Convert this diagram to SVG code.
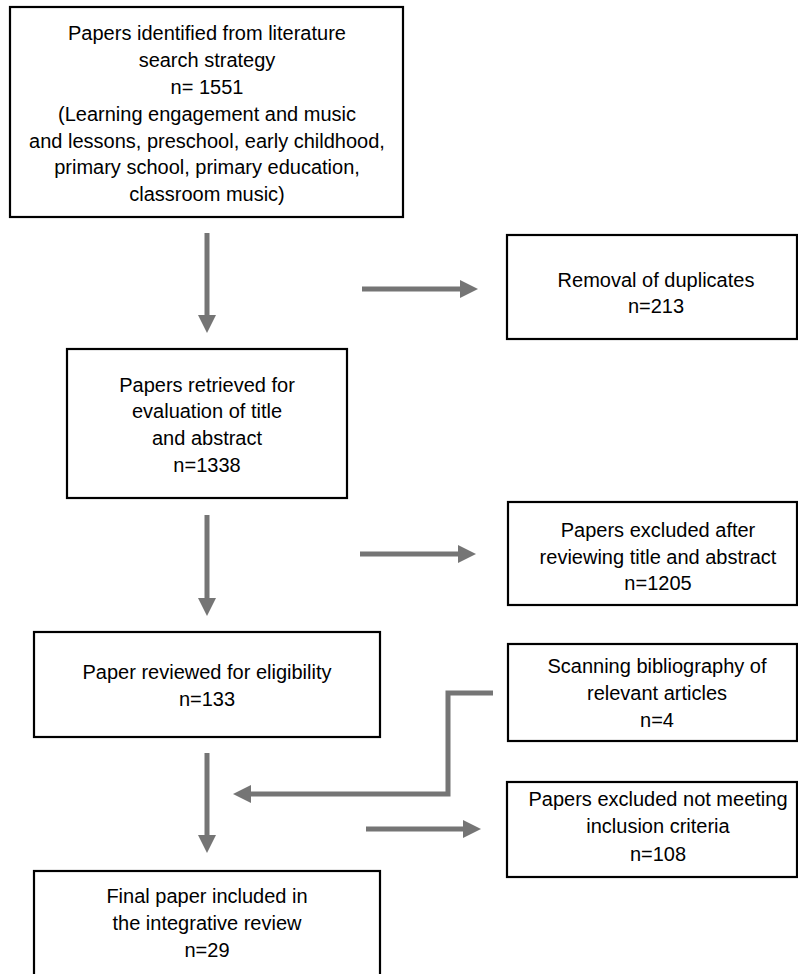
<svg xmlns="http://www.w3.org/2000/svg" width="798" height="974" viewBox="0 0 798 974">
<style>
.box{fill:#fff;stroke:#000;stroke-width:2.2}
.t{font-family:"Liberation Sans",Arial,sans-serif;font-size:20px;fill:#000;text-anchor:middle}
.c{fill:none;stroke:#757575;stroke-width:5}
</style>
<defs>
<marker id="ah" markerUnits="userSpaceOnUse" markerWidth="18" markerHeight="18" refX="6" refY="9" orient="auto">
<path d="M0,0 L18,9 L0,18 z" fill="#757575"/>
</marker>
</defs>
<rect width="798" height="974" fill="#fff"/>
<g id="connectors">
<line class="c" x1="207" y1="233" x2="207" y2="321" marker-end="url(#ah)"/>
<line class="c" x1="362" y1="289" x2="466" y2="289" marker-end="url(#ah)"/>
<line class="c" x1="207" y1="515" x2="207" y2="604" marker-end="url(#ah)"/>
<line class="c" x1="360" y1="554" x2="464" y2="554" marker-end="url(#ah)"/>
<line class="c" x1="207" y1="753" x2="207" y2="841" marker-end="url(#ah)"/>
<polyline class="c" points="493,693 448,693 448,794 245,794" marker-end="url(#ah)"/>
<line class="c" x1="366" y1="829" x2="469" y2="829" marker-end="url(#ah)"/>
</g>
<g id="n1">
<rect class="box" x="10" y="7" width="393" height="210"/>
<text class="t" x="207" y="40">Papers identified from literature</text>
<text class="t" x="207" y="67">search strategy</text>
<text class="t" x="207" y="94">n= 1551</text>
<text class="t" x="207" y="121">(Learning engagement and music</text>
<text class="t" x="207" y="148">and lessons, preschool, early childhood,</text>
<text class="t" x="207" y="174">primary school, primary education,</text>
<text class="t" x="207" y="201">classroom music)</text>
</g>
<g id="n2">
<rect class="box" x="507" y="235" width="290" height="104"/>
<text class="t" x="656" y="287">Removal of duplicates</text>
<text class="t" x="656" y="313">n=213</text>
</g>
<g id="n3">
<rect class="box" x="67" y="349" width="280" height="149"/>
<text class="t" x="207" y="392">Papers retrieved for</text>
<text class="t" x="207" y="418">evaluation of title</text>
<text class="t" x="207" y="445">and abstract</text>
<text class="t" x="207" y="472">n=1338</text>
</g>
<g id="n4">
<rect class="box" x="508" y="502" width="289" height="103"/>
<text class="t" x="658" y="537">Papers excluded after</text>
<text class="t" x="658" y="564">reviewing title and abstract</text>
<text class="t" x="658" y="590">n=1205</text>
</g>
<g id="n5">
<rect class="box" x="34" y="632" width="346" height="105"/>
<text class="t" x="207" y="679">Paper reviewed for eligibility</text>
<text class="t" x="207" y="706">n=133</text>
</g>
<g id="n6">
<rect class="box" x="508" y="644" width="289" height="97"/>
<text class="t" x="657" y="673">Scanning bibliography of</text>
<text class="t" x="657" y="700">relevant articles</text>
<text class="t" x="657" y="727">n=4</text>
</g>
<g id="n7">
<rect class="box" x="507" y="782" width="290" height="95"/>
<text class="t" x="658" y="806">Papers excluded not meeting</text>
<text class="t" x="658" y="833">inclusion criteria</text>
<text class="t" x="658" y="861">n=108</text>
</g>
<g id="n8">
<rect class="box" x="34" y="871" width="346" height="110"/>
<text class="t" x="207" y="903">Final paper included in</text>
<text class="t" x="207" y="930">the integrative review</text>
<text class="t" x="207" y="957">n=29</text>
</g>
</svg>
